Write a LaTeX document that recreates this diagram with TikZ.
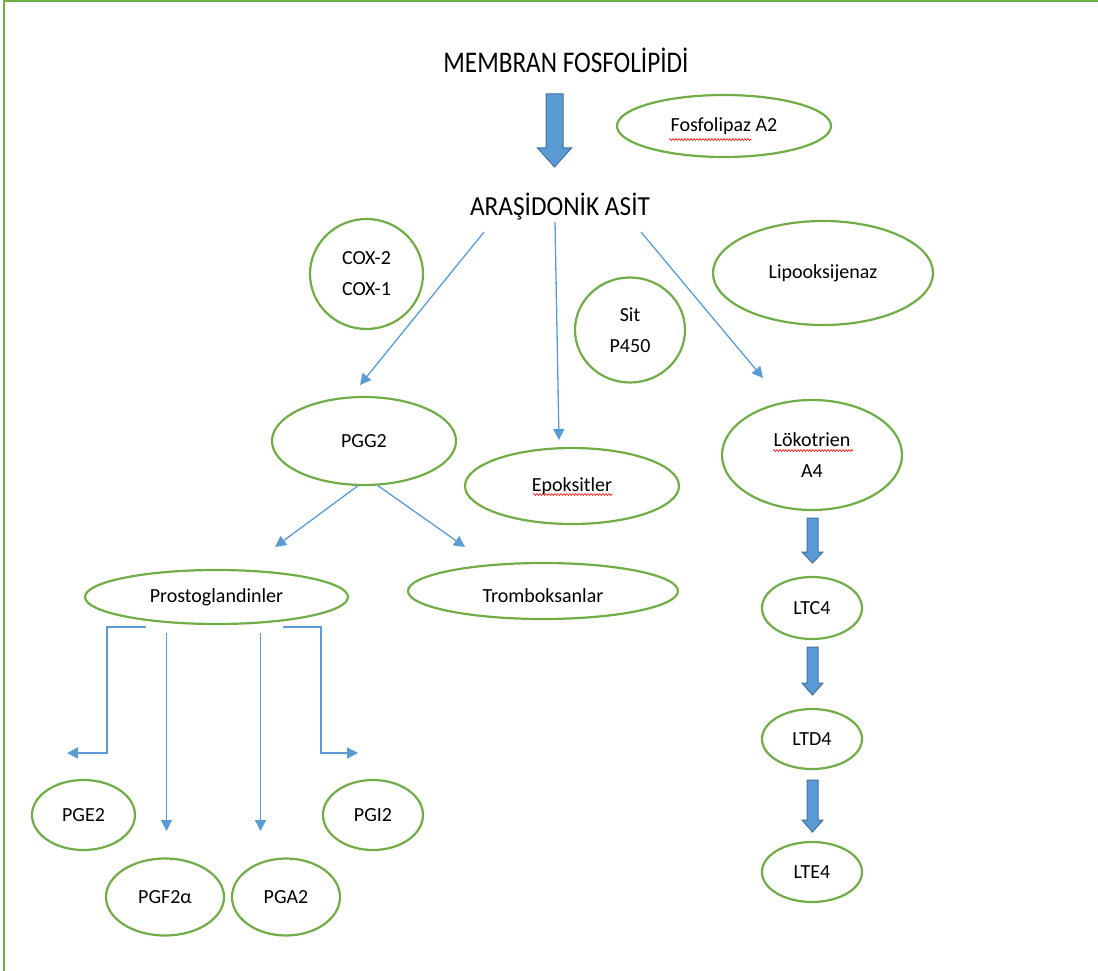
\documentclass[tikz,border=0pt]{standalone}
\usepackage{fontspec}
\setmainfont{Carlito}
\newfontfamily\membfont{Carlito}[FakeStretch=0.84]
\newfontfamily\arafont{Carlito}[FakeStretch=0.92]
\usetikzlibrary{shapes.geometric,arrows.meta,decorations.pathmorphing}
\definecolor{egreen}{HTML}{70AD47}
\definecolor{ablue}{HTML}{5B9BD5}
\definecolor{adark}{HTML}{41719C}
\tikzset{
  ell/.style={ellipse, draw=egreen, line width=2.2pt, inner sep=0pt, align=center,
    font=\fontsize{20}{31}\selectfont},
  thin/.style={draw=ablue, line width=1.3pt, -{Triangle[length=11pt,width=11pt]}},
  blockarr/.style={fill=ablue, draw=adark, line width=1pt, line join=miter},
  squig/.style={draw=red, line width=0.6pt, decorate, decoration={snake, amplitude=0.9pt, segment length=3pt}},
  bigtxt/.style={inner sep=0pt}
}
\newcommand{\blockarrow}[6]{% x, shaft half, head half, top, headstart, tip
  \path[blockarr] (#1-#2,#4) -- (#1+#2,#4) -- (#1+#2,#5) -- (#1+#3,#5) -- (#1,#6) -- (#1-#3,#5) -- (#1-#2,#5) -- cycle;}
\begin{document}
\begin{tikzpicture}[x=1pt,y=-1pt]
\useasboundingbox (0,0) rectangle (1098,971);
% border
\draw[egreen, line width=2pt] (4,972) -- (4,1) -- (1098,1);

% titles
\node[bigtxt, font=\membfont\fontsize{30}{36}\selectfont] (memb) at (566,60) {MEMBRAN FOSFOLİPİDİ};
\node[bigtxt, font=\arafont\fontsize{27.5}{33}\selectfont] (ara) at (560,207) {ARAŞİDONİK ASİT};

% block arrows
\blockarrow{554.5}{8.5}{17}{94}{148}{167}
\blockarrow{812.5}{5.5}{10.5}{518}{552}{563}
\blockarrow{812.5}{5.5}{10.5}{647}{683}{695}
\blockarrow{812.5}{5.5}{10.5}{780}{820}{832}

% ellipses
\node[ell, minimum width=214pt, minimum height=62pt] (fos) at (724,126) {Fosfolipaz A2};
\node[ell, minimum width=113pt, minimum height=110pt, text depth=-6pt] (cox) at (366.5,274) {COX-2\\COX-1};
\node[ell, minimum width=220pt, minimum height=104pt] (lipo) at (823,273) {Lipooksijenaz};
\node[ell, minimum width=110pt, minimum height=105pt] (sit) at (630,330) {Sit\\P450};
\node[ell, minimum width=184pt, minimum height=88pt] (pgg) at (364,441) {PGG2};
\node[ell, minimum width=214pt, minimum height=76pt] (epo) at (572,486) {Epoksitler};
\node[ell, minimum width=180pt, minimum height=110pt] (lok) at (812,455) {Lökotrien\\A4};
\node[ell, minimum width=263pt, minimum height=54pt] (pros) at (216.5,597) {Prostoglandinler};
\node[ell, minimum width=270pt, minimum height=56pt, text height=22pt, text depth=0pt] (trom) at (543,591) {Tromboksanlar};
\node[ell, minimum width=100pt, minimum height=62pt] (ltc) at (812,608) {LTC4};
\node[ell, minimum width=100pt, minimum height=60pt] (ltd) at (812,739) {LTD4};
\node[ell, minimum width=100pt, minimum height=60pt] (lte) at (812,872) {LTE4};
\node[ell, minimum width=103pt, minimum height=70pt] (pge) at (83.5,815) {PGE2};
\node[ell, minimum width=100pt, minimum height=70pt] (pgi) at (373,815) {PGI2};
\node[ell, minimum width=118pt, minimum height=77pt] (pgf) at (165,897) {PGF2α};
\node[ell, minimum width=108pt, minimum height=77pt] (pga) at (286,897) {PGA2};

% spell-check squiggles
\draw[squig] (669,139.5) -- (751,139.5);
\draw[squig] (533,494.5) -- (612,494.5);
\draw[squig] (773,450.5) -- (853,450.5);

% connector endpoints
\coordinate (a1s) at (484,232); \coordinate (a1e) at (360,385);
\coordinate (a2s) at (555,222); \coordinate (a2e) at (559,440);
\coordinate (a3s) at (641,232); \coordinate (a3e) at (763,378);
\coordinate (a4s) at (359,485); \coordinate (a4e) at (275,547);
\coordinate (a5s) at (377,485); \coordinate (a5e) at (465,547);
\coordinate (eLs) at (146,627); \coordinate (eLe) at (67,753);
\coordinate (v1s) at (166.5,633); \coordinate (v1e) at (166.5,831);
\coordinate (v2s) at (260.5,633); \coordinate (v2e) at (260.5,831);
\coordinate (eRs) at (283,627); \coordinate (eRe) at (358,753);

\draw[thin] (a1s) -- (a1e);
\draw[thin] (a2s) -- (a2e);
\draw[thin] (a3s) -- (a3e);
\draw[thin] (a4s) -- (a4e);
\draw[thin] (a5s) -- (a5e);
\draw[thin] (eLs) -- (107,627) -- (107,753) -- (eLe);
\draw[thin] (v1s) -- (v1e);
\draw[thin] (v2s) -- (v2e);
\draw[thin] (eRs) -- (321,627) -- (321,753) -- (eRe);
\end{tikzpicture}
\end{document}
